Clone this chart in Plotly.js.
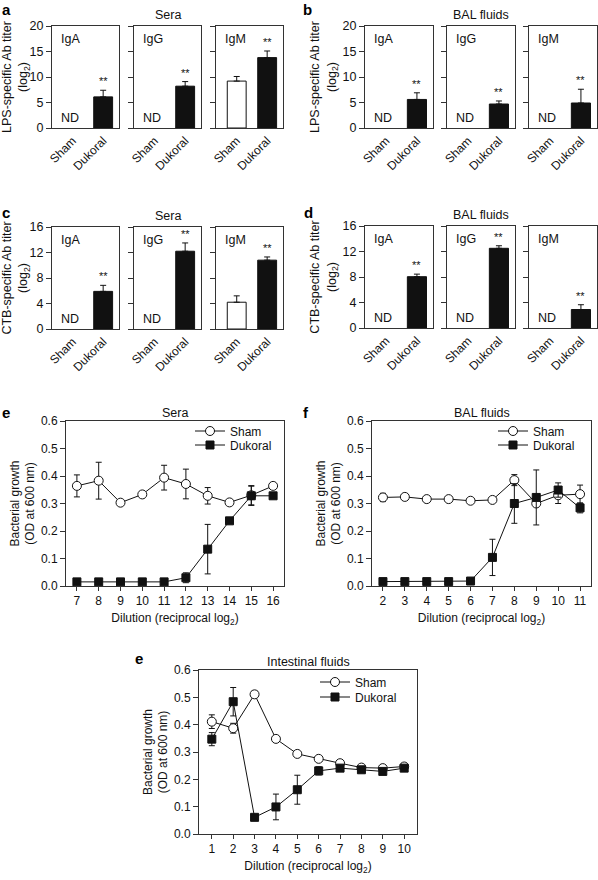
<!DOCTYPE html>
<html><head><meta charset="utf-8">
<script src="https://cdn.plot.ly/plotly-3.0.1.min.js"></script>
<style>body{margin:0;background:#fff}#chart{width:598px;height:880px}</style>
</head><body><div id="chart"></div>
<script>
// ---------- DATA ----------
const groups = ['Sham', 'Dukoral'];
const isotypes = ['IgA', 'IgG', 'IgM'];

// a: LPS-specific, Sera
const lpsSeraSham = [null, null, 9.2];
const lpsSeraShamErr = [0, 0, 0.9];
const lpsSeraDuk = [6.1, 8.2, 13.8];
const lpsSeraDukErr = [1.3, 0.9, 1.3];
// b: LPS-specific, BAL fluids
const lpsBalSham = [null, null, null];
const lpsBalShamErr = [0, 0, 0];
const lpsBalDuk = [5.6, 4.7, 4.9];
const lpsBalDukErr = [1.3, 0.6, 2.7];
// c: CTB-specific, Sera
const ctbSeraSham = [null, null, 4.2];
const ctbSeraShamErr = [0, 0, 1.0];
const ctbSeraDuk = [5.9, 12.2, 10.8];
const ctbSeraDukErr = [0.95, 1.3, 0.5];
// d: CTB-specific, BAL fluids
const ctbBalSham = [null, null, null];
const ctbBalShamErr = [0, 0, 0];
const ctbBalDuk = [8.05, 12.5, 2.9];
const ctbBalDukErr = [0.4, 0.4, 0.75];

// e: Sera growth
const dilSera = [7, 8, 9, 10, 11, 12, 13, 14, 15, 16];
const seraSham = [0.364, 0.383, 0.303, 0.333, 0.394, 0.371, 0.328, 0.304, 0.33, 0.364];
const seraShamErr = [0.04, 0.067, 0, 0, 0.045, 0.054, 0.03, 0, 0.035, 0.005];
const seraDuk = [0.015, 0.015, 0.015, 0.015, 0.015, 0.03, 0.134, 0.237, 0.328, 0.328];
const seraDukErr = [0, 0, 0, 0, 0, 0.018, 0.09, 0, 0.035, 0];
// f: BAL fluids growth
const dilBal = [2, 3, 4, 5, 6, 7, 8, 9, 10, 11];
const balSham = [0.322, 0.324, 0.316, 0.316, 0.31, 0.313, 0.385, 0.30, 0.33, 0.334];
const balShamErr = [0.015, 0, 0, 0, 0, 0, 0.02, 0, 0.03, 0.033];
const balDuk = [0.016, 0.016, 0.016, 0.016, 0.018, 0.104, 0.30, 0.322, 0.349, 0.284];
const balDukErr = [0, 0, 0, 0, 0, 0.066, 0.072, 0.1, 0.026, 0.018];
// e (bottom): Intestinal fluids growth
const dilInt = [1, 2, 3, 4, 5, 6, 7, 8, 9, 10];
const intSham = [0.411, 0.387, 0.511, 0.348, 0.293, 0.275, 0.259, 0.243, 0.241, 0.247];
const intShamErr = [0.025, 0.018, 0.012, 0.008, 0, 0, 0, 0, 0, 0.005];
const intDuk = [0.347, 0.484, 0.061, 0.099, 0.162, 0.231, 0.241, 0.235, 0.229, 0.241];
const intDukErr = [0.024, 0.052, 0, 0.047, 0.053, 0.015, 0, 0, 0, 0];

// ---------- LAYOUT HELPERS ----------
const W = 598, H = 880;
const px = v => v / W;
const py = v => 1 - v / H;
const FONT = 'Liberation Sans, Arial, sans-serif';
const INK = '#111';
const AXC = '#333';

const traces = [];
const annotations = [];
const layout = {
  width: W, height: H,
  margin: {l: 0, r: 0, t: 0, b: 0},
  paper_bgcolor: '#fff', plot_bgcolor: '#fff',
  font: {family: FONT, size: 12, color: INK},
  showlegend: true,
  bargap: 0
};

const leftBoxes = [[52, 119], [134, 201], [216, 283]];
const rightBoxes = [[365, 433], [447, 515], [529, 597]];

const barPanels = [
  {sham: lpsSeraSham, shamErr: lpsSeraShamErr, duk: lpsSeraDuk, dukErr: lpsSeraDukErr,
   ymax: 20, dtick: 5, title: 'Sera', boxes: leftBoxes, top: 26, bot: 128,
   ytitle: 'LPS-specific Ab titer<br>(log<sub>2</sub>)', label: 'a', lx: 6, ly: 10},
  {sham: lpsBalSham, shamErr: lpsBalShamErr, duk: lpsBalDuk, dukErr: lpsBalDukErr,
   ymax: 20, dtick: 5, title: 'BAL fluids', boxes: rightBoxes, top: 26, bot: 128,
   ytitle: 'LPS-specific Ab titer<br>(log<sub>2</sub>)', label: 'b', lx: 307, ly: 10},
  {sham: ctbSeraSham, shamErr: ctbSeraShamErr, duk: ctbSeraDuk, dukErr: ctbSeraDukErr,
   ymax: 16, dtick: 4, title: 'Sera', boxes: leftBoxes, top: 227, bot: 329,
   ytitle: 'CTB-specific Ab titer<br>(log<sub>2</sub>)', label: 'c', lx: 6, ly: 212},
  {sham: ctbBalSham, shamErr: ctbBalShamErr, duk: ctbBalDuk, dukErr: ctbBalDukErr,
   ymax: 16, dtick: 4, title: 'BAL fluids', boxes: rightBoxes, top: 226, bot: 328,
   ytitle: 'CTB-specific Ab titer<br>(log<sub>2</sub>)', label: 'd', lx: 308, ly: 212}
];

let k = 0;
barPanels.forEach(p => {
  isotypes.forEach((iso, i) => {
    k += 1;
    const xa = k === 1 ? 'x' : 'x' + k;
    const ya = k === 1 ? 'y' : 'y' + k;
    const xk = k === 1 ? 'xaxis' : 'xaxis' + k;
    const yk = k === 1 ? 'yaxis' : 'yaxis' + k;
    const box = p.boxes[i];
    layout[xk] = {
      domain: [px(box[0]), px(box[1])], anchor: ya,
      type: 'category', categoryorder: 'array', categoryarray: groups,
      range: [-0.68, 1.52], tickangle: -45, ticks: '',
      showline: true, mirror: true, linecolor: AXC, linewidth: 1,
      showgrid: false, zeroline: false, fixedrange: true,
      tickfont: {size: 12, family: FONT, color: INK}
    };
    layout[yk] = {
      domain: [py(p.bot), py(p.top)], anchor: xa,
      range: [0, p.ymax], dtick: p.dtick, tick0: 0,
      ticks: 'outside', ticklen: 5, tickcolor: AXC, tickwidth: 1,
      showticklabels: i === 0,
      showline: true, mirror: true, linecolor: AXC, linewidth: 1,
      showgrid: false, zeroline: false, fixedrange: true,
      tickfont: {size: 12.5, family: FONT, color: INK}
    };
    if (i === 0) {
      layout[yk].title = {text: p.ytitle, standoff: 3, font: {size: 12.5, family: FONT, color: INK}};
    }
    traces.push({
      type: 'bar', x: groups, y: [p.sham[i], p.duk[i]],
      xaxis: xa, yaxis: ya, width: 0.62,
      marker: {color: ['#fff', INK], line: {color: INK, width: 1}},
      error_y: {type: 'data', symmetric: false, array: [p.shamErr[i], p.dukErr[i]],
                arrayminus: [0, 0], color: INK, thickness: 1, width: 3},
      showlegend: false, hoverinfo: 'skip'
    });
    annotations.push({xref: xa + ' domain', yref: ya + ' domain', x: 0.1, y: 0.96,
      xanchor: 'left', yanchor: 'top', text: iso, showarrow: false,
      font: {size: 12.5, family: FONT, color: INK}});
    if (p.sham[i] === null) {
      annotations.push({xref: xa, yref: ya + ' domain', x: 'Sham', y: 0.1, xshift: -3,
        xanchor: 'center', yanchor: 'middle', text: 'ND', showarrow: false,
        font: {size: 12.5, family: FONT, color: INK}});
    }
    annotations.push({xref: xa, yref: ya, x: 'Dukoral', y: p.duk[i] + p.dukErr[i],
      yshift: 1, xanchor: 'center', yanchor: 'bottom', text: '**', showarrow: false,
      font: {size: 11, family: FONT, color: INK}});
    if (i === 1) {
      annotations.push({xref: 'paper', yref: 'paper', x: px((box[0] + box[1]) / 2),
        y: py(p.top - 11), xanchor: 'center', yanchor: 'middle', text: p.title,
        showarrow: false, font: {size: 12.5, family: FONT, color: INK}});
    }
  });
  annotations.push({xref: 'paper', yref: 'paper', x: px(p.lx), y: py(p.ly),
    xanchor: 'center', yanchor: 'middle', text: '<b>' + p.label + '</b>',
    showarrow: false, font: {size: 15, family: FONT, color: '#000'}});
});

// ---------- LINE PANELS ----------
const linePanels = [
  {x: dilSera, sham: seraSham, shamErr: seraShamErr, duk: seraDuk, dukErr: seraDukErr,
   xr: [6.5, 16.5], box: [66, 284], top: 421, bot: 586, title: 'Sera', label: 'e', lx: 6, ly: 412,
   legX: 190, legY1: 431, legY2: 445},
  {x: dilBal, sham: balSham, shamErr: balShamErr, duk: balDuk, dukErr: balDukErr,
   xr: [1.5, 11.5], box: [372, 591], top: 421, bot: 586, title: 'BAL fluids', label: 'f', lx: 306, ly: 412,
   legX: 493, legY1: 431, legY2: 445},
  {x: dilInt, sham: intSham, shamErr: intShamErr, duk: intDuk, dukErr: intDukErr,
   xr: [0.4, 10.6], box: [199, 417], top: 670, bot: 834, title: 'Intestinal fluids', label: 'e', lx: 139, ly: 658,
   legX: 315, legY1: 682, legY2: 697}
];

let legN = 0;
linePanels.forEach(p => {
  k += 1;
  const xa = 'x' + k, ya = 'y' + k;
  layout['xaxis' + k] = {
    domain: [px(p.box[0]), px(p.box[1])], anchor: ya,
    range: p.xr, dtick: 1, tick0: 0,
    ticks: 'outside', ticklen: 4, tickcolor: AXC, tickwidth: 1,
    showline: true, mirror: true, linecolor: AXC, linewidth: 1,
    showgrid: false, zeroline: false, fixedrange: true,
    tickfont: {size: 12, family: FONT, color: INK},
    title: {text: 'Dilution (reciprocal log<sub>2</sub>)', standoff: 6,
            font: {size: 12, family: FONT, color: INK}}
  };
  layout['yaxis' + k] = {
    domain: [py(p.bot), py(p.top)], anchor: xa,
    range: [0, 0.6], dtick: 0.1, tick0: 0, tickformat: '.1f',
    ticks: 'outside', ticklen: 5, tickcolor: AXC, tickwidth: 1,
    showline: true, mirror: true, linecolor: AXC, linewidth: 1,
    showgrid: false, zeroline: false, fixedrange: true,
    tickfont: {size: 12, family: FONT, color: INK},
    title: {text: 'Bacterial growth<br>(OD at 600 nm)', standoff: 3,
            font: {size: 12, family: FONT, color: INK}}
  };
  const series = [
    {name: 'Sham', y: p.sham, err: p.shamErr,
     marker: {symbol: 'circle', size: 9, color: '#fff', line: {color: INK, width: 1}}, ly: p.legY1},
    {name: 'Dukoral', y: p.duk, err: p.dukErr,
     marker: {symbol: 'square', size: 8, color: INK, line: {color: INK, width: 1}}, ly: p.legY2}
  ];
  series.forEach(s => {
    legN += 1;
    const lg = legN === 1 ? 'legend' : 'legend' + legN;
    layout[lg] = {x: px(p.legX), y: py(s.ly), xanchor: 'left', yanchor: 'middle',
      bgcolor: 'rgba(0,0,0,0)', borderwidth: 0, itemwidth: 30,
      font: {size: 12, family: FONT, color: INK}};
    traces.push({
      type: 'scatter', mode: 'lines+markers', name: s.name, legend: lg,
      x: p.x, y: s.y, xaxis: xa, yaxis: ya,
      line: {color: INK, width: 1}, marker: s.marker,
      error_y: {type: 'data', array: s.err, color: INK, thickness: 1, width: 3},
      hoverinfo: 'skip'
    });
  });
  annotations.push({xref: 'paper', yref: 'paper', x: px((p.box[0] + p.box[1]) / 2),
    y: py(p.top - 8), xanchor: 'center', yanchor: 'middle', text: p.title,
    showarrow: false, font: {size: 12.5, family: FONT, color: INK}});
  annotations.push({xref: 'paper', yref: 'paper', x: px(p.lx), y: py(p.ly),
    xanchor: 'center', yanchor: 'middle', text: '<b>' + p.label + '</b>',
    showarrow: false, font: {size: 15, family: FONT, color: '#000'}});
});

layout.annotations = annotations;
Plotly.newPlot('chart', traces, layout, {staticPlot: true, displayModeBar: false});
</script>
</body></html>
